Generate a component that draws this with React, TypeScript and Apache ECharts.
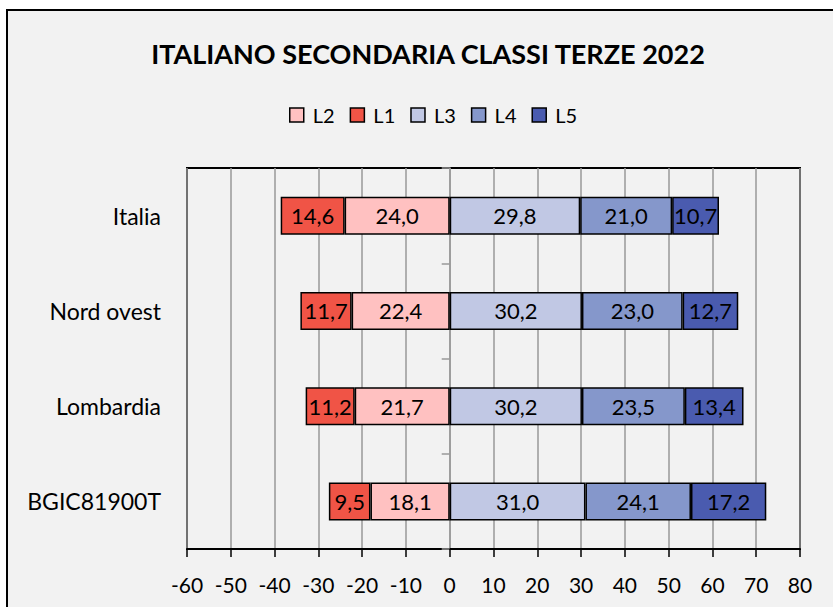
import React, { useEffect, useRef } from "react";
import * as echarts from "echarts";

const categories = ["Italia", "Nord ovest", "Lombardia", "BGIC81900T"];
const L1 = [14.6, 11.7, 11.2, 9.5];
const L2 = [24.0, 22.4, 21.7, 18.1];
const L3 = [29.8, 30.2, 30.2, 31.0];
const L4 = [21.0, 23.0, 23.5, 24.1];
const L5 = [10.7, 12.7, 13.4, 17.2];
const seriesNames = ["L2", "L1", "L3", "L4", "L5"];
const colors: Record<string, string> = {
  L2: "#FFC1C1",
  L1: "#F05446",
  L3: "#C1C8E4",
  L4: "#8597CB",
  L5: "#4A5BAF",
};
const FONT = "Lato";

export default function App() {
  const ref = useRef<HTMLDivElement>(null);
  useEffect(() => {
    if (!ref.current) return;
    const chart = echarts.init(ref.current, undefined, { renderer: "svg" });
    const valuesByName: Record<string, number[]> = {
      L2: L2.map((v) => -v),
      L1: L1.map((v) => -v),
      L3,
      L4,
      L5,
    };
    const fmt = (p: any) => Math.abs(p.value).toFixed(1).replace(".", ",");
    chart.setOption({
      animation: false,
      backgroundColor: "#ffffff",
      textStyle: { fontFamily: FONT },
      graphic: [
        {
          type: "rect",
          z: -100,
          shape: { x: 7, y: 10, width: 860, height: 700 },
          style: { fill: "#F2F2F2", stroke: "#000", lineWidth: 2 },
        },
        {
          type: "text",
          x: 428,
          y: 53,
          style: {
            text: "ITALIANO SECONDARIA CLASSI TERZE 2022",
            fontFamily: FONT,
            fontWeight: "bold",
            fontSize: 27,
            fill: "#000",
            align: "center",
            verticalAlign: "middle",
          },
        },
      ],
      legend: {
        data: seriesNames,
        top: 100,
        left: 284,
        itemWidth: 14,
        itemHeight: 14,
        itemGap: 15,
        icon: "rect",
        itemStyle: { borderColor: "#000", borderWidth: 1.5 },
        textStyle: { fontSize: 20, color: "#000", fontFamily: FONT, padding: [0, 0, 0, 4] },
      },
      grid: {
        left: 187,
        right: 33,
        top: 168,
        bottom: 58,
        show: true,
        borderColor: "#000",
        borderWidth: 2,
        backgroundColor: "transparent",
        containLabel: false,
      },
      xAxis: {
        type: "value",
        min: -60,
        max: 80,
        interval: 10,
        axisLine: { show: true, onZero: false, lineStyle: { color: "#000", width: 2 } },
        axisTick: { show: true, length: 8, lineStyle: { color: "#000", width: 1.5 } },
        axisLabel: { fontSize: 21, color: "#000", margin: 25, fontFamily: FONT },
        splitLine: { show: true, lineStyle: { color: "#999", width: 1.5 } },
      },
      yAxis: [
        {
          type: "category",
          inverse: true,
          data: categories,
          axisLine: { show: true, onZero: true, lineStyle: { color: "#999", width: 1.5 } },
          axisTick: { show: true, length: 8, lineStyle: { color: "#999", width: 1.5 } },
          axisLabel: { show: false },
          splitLine: { show: false },
        },
        {
          type: "category",
          inverse: true,
          position: "left",
          data: categories,
          axisLine: { show: false, onZero: false },
          axisTick: { show: false },
          axisLabel: { fontSize: 23, color: "#000", margin: 26, fontFamily: FONT },
          splitLine: { show: false },
        },
      ],
      series: seriesNames.map((name) => ({
        name,
        type: "bar",
        stack: "total",
        yAxisIndex: 0,
        barWidth: 38,
        data: valuesByName[name],
        itemStyle: { color: colors[name], borderColor: "#000", borderWidth: 1.5 },
        label: {
          show: true,
          position: "inside",
          formatter: fmt,
          fontSize: 22,
          color: "#000",
          fontFamily: FONT,
        },
      })),
    });
    return () => chart.dispose();
  }, []);
  return (
    <div
      ref={ref}
      style={{ position: "fixed", left: 0, top: 0, width: 833, height: 607 }}
    />
  );
}
